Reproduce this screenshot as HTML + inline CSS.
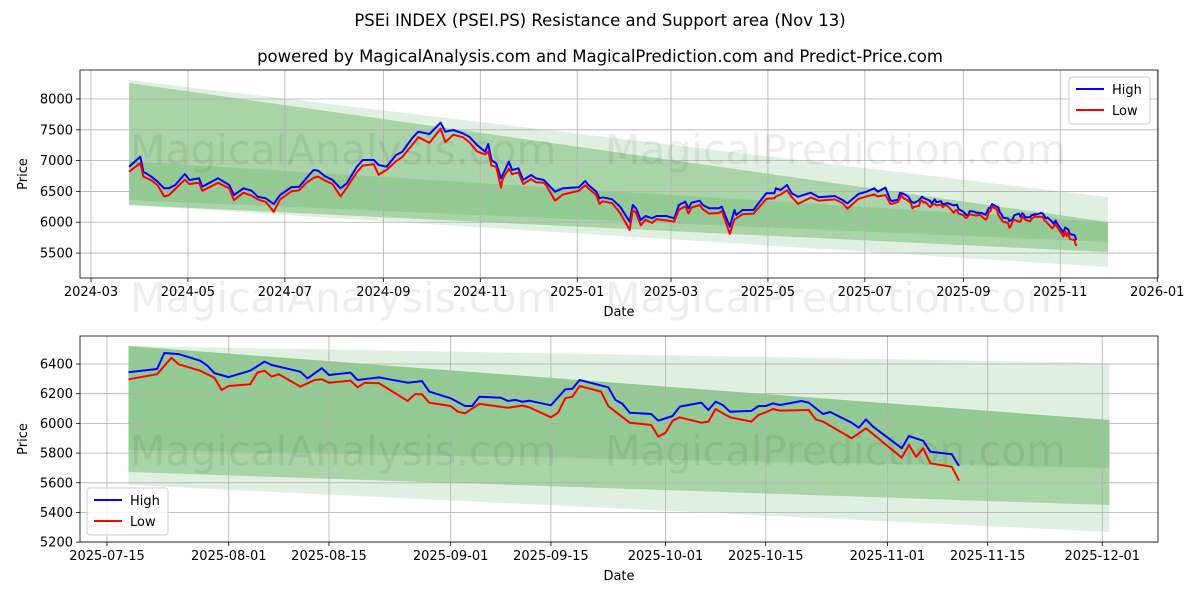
<!DOCTYPE html>
<html><head><meta charset="utf-8"><style>
html,body{margin:0;padding:0;background:#fff;}
svg{display:block;font-family:"DejaVu Sans","Liberation Sans",sans-serif;}
</style></head><body>
<svg id="chart" width="1200" height="600" viewBox="0 0 1200 600" xmlns="http://www.w3.org/2000/svg">
<text x="600" y="26" text-anchor="middle" font-size="16.5">PSEi INDEX (PSEI.PS) Resistance and Support area (Nov 13)</text>
<text x="600" y="62" text-anchor="middle" font-size="16.5">powered by MagicalAnalysis.com and MagicalPrediction.com and Predict-Price.com</text>
<g id="top"></g>
<g id="bot"></g>
</svg>
<script>
// ---- data ----
const topDates = ["2024-03-25","2024-04-01","2024-04-03","2024-04-08","2024-04-12","2024-04-16","2024-04-19","2024-04-23","2024-04-29","2024-05-02","2024-05-08","2024-05-10","2024-05-20","2024-05-27","2024-05-30","2024-06-05","2024-06-10","2024-06-14","2024-06-19","2024-06-24","2024-06-28","2024-07-05","2024-07-10","2024-07-15","2024-07-19","2024-07-22","2024-07-26","2024-07-31","2024-08-05","2024-08-09","2024-08-15","2024-08-19","2024-08-26","2024-08-29","2024-09-03","2024-09-09","2024-09-13","2024-09-19","2024-09-23","2024-09-30","2024-10-07","2024-10-10","2024-10-15","2024-10-21","2024-10-25","2024-10-30","2024-11-04","2024-11-06","2024-11-08","2024-11-11","2024-11-14","2024-11-15","2024-11-19","2024-11-21","2024-11-25","2024-11-28","2024-12-03","2024-12-06","2024-12-11","2024-12-13","2024-12-18","2024-12-23","2025-01-02","2025-01-06","2025-01-08","2025-01-13","2025-01-15","2025-01-17","2025-01-23","2025-01-28","2025-02-03","2025-02-05","2025-02-07","2025-02-10","2025-02-13","2025-02-17","2025-02-20","2025-02-26","2025-03-03","2025-03-06","2025-03-10","2025-03-12","2025-03-14","2025-03-19","2025-03-21","2025-03-25","2025-03-31","2025-04-02","2025-04-07","2025-04-10","2025-04-11","2025-04-15","2025-04-22","2025-04-25","2025-04-30","2025-05-05","2025-05-06","2025-05-09","2025-05-13","2025-05-16","2025-05-20","2025-05-28","2025-06-02","2025-06-06","2025-06-12","2025-06-17","2025-06-20","2025-06-27","2025-07-02","2025-07-07","2025-07-09","2025-07-14","2025-07-17"];
const topHigh = [6901,7064,6820,6739,6658,6551,6551,6604,6783,6685,6713,6577,6713,6604,6442,6551,6512,6414,6388,6296,6442,6567,6577,6729,6848,6837,6750,6685,6551,6632,6891,7010,7010,6929,6901,7091,7145,7362,7470,7432,7616,7470,7497,7443,7388,7253,7145,7270,7010,6956,6713,6767,6983,6848,6875,6685,6767,6713,6685,6632,6496,6551,6567,6669,6604,6496,6388,6404,6372,6252,6009,6280,6226,6036,6101,6064,6101,6101,6064,6280,6333,6226,6317,6350,6280,6226,6226,6252,5927,6198,6117,6198,6198,6306,6470,6470,6551,6523,6604,6470,6414,6480,6404,6414,6426,6361,6306,6458,6496,6551,6496,6560,6361];
const topLow = [6820,6960,6740,6680,6600,6420,6440,6540,6690,6620,6640,6510,6640,6550,6360,6480,6430,6370,6330,6170,6370,6500,6520,6650,6720,6740,6680,6620,6420,6560,6800,6920,6940,6770,6850,6990,7060,7250,7380,7290,7520,7300,7420,7380,7300,7150,7100,7150,6920,6900,6560,6700,6870,6780,6810,6620,6700,6650,6640,6580,6350,6450,6510,6600,6550,6440,6300,6340,6310,6150,5874,6200,6150,5950,6040,5990,6050,6030,6010,6200,6260,6140,6240,6280,6210,6140,6150,6180,5810,6050,6060,6130,6140,6230,6380,6390,6420,6450,6520,6410,6300,6400,6350,6360,6370,6310,6220,6380,6420,6450,6420,6440,6300];
const highDates = ["2025-07-18","2025-07-22","2025-07-23","2025-07-25","2025-07-28","2025-07-29","2025-07-30","2025-08-01","2025-08-04","2025-08-06","2025-08-07","2025-08-11","2025-08-12","2025-08-14","2025-08-15","2025-08-18","2025-08-19","2025-08-22","2025-08-26","2025-08-28","2025-08-29","2025-09-01","2025-09-03","2025-09-04","2025-09-05","2025-09-08","2025-09-09","2025-09-10","2025-09-11","2025-09-12","2025-09-15","2025-09-17","2025-09-18","2025-09-19","2025-09-23","2025-09-24","2025-09-25","2025-09-26","2025-09-29","2025-09-30","2025-10-02","2025-10-03","2025-10-06","2025-10-07","2025-10-08","2025-10-09","2025-10-10","2025-10-13","2025-10-14","2025-10-15","2025-10-16","2025-10-17","2025-10-20","2025-10-21","2025-10-23","2025-10-24","2025-10-27","2025-10-28","2025-10-29","2025-10-30","2025-11-03","2025-11-04","2025-11-06","2025-11-07","2025-11-10","2025-11-11"];
const highs = [6344,6366,6474,6467,6422,6389,6339,6312,6355,6416,6393,6348,6303,6372,6326,6342,6292,6310,6274,6285,6214,6169,6117,6117,6180,6173,6151,6158,6146,6153,6122,6229,6234,6292,6243,6158,6131,6072,6063,6018,6050,6113,6140,6090,6146,6124,6079,6084,6117,6117,6135,6124,6151,6140,6063,6077,6005,5971,6027,5978,5832,5915,5883,5809,5792,5713];
const lowDates = ["2025-07-18","2025-07-22","2025-07-24","2025-07-25","2025-07-28","2025-07-30","2025-07-31","2025-08-01","2025-08-04","2025-08-05","2025-08-06","2025-08-07","2025-08-08","2025-08-11","2025-08-13","2025-08-14","2025-08-15","2025-08-18","2025-08-19","2025-08-20","2025-08-22","2025-08-26","2025-08-27","2025-08-28","2025-08-29","2025-09-01","2025-09-02","2025-09-03","2025-09-05","2025-09-09","2025-09-11","2025-09-12","2025-09-15","2025-09-16","2025-09-17","2025-09-18","2025-09-19","2025-09-22","2025-09-23","2025-09-24","2025-09-26","2025-09-29","2025-09-30","2025-10-01","2025-10-02","2025-10-03","2025-10-06","2025-10-07","2025-10-08","2025-10-09","2025-10-10","2025-10-13","2025-10-14","2025-10-15","2025-10-16","2025-10-17","2025-10-21","2025-10-22","2025-10-23","2025-10-27","2025-10-29","2025-11-03","2025-11-04","2025-11-05","2025-11-06","2025-11-07","2025-11-10","2025-11-11"];
const lows = [6297,6331,6442,6398,6355,6308,6225,6252,6263,6342,6355,6315,6331,6248,6292,6297,6274,6288,6243,6274,6270,6151,6196,6196,6140,6117,6079,6068,6131,6106,6120,6108,6041,6072,6169,6180,6252,6214,6117,6079,6005,5989,5911,5937,6018,6041,6005,6012,6097,6068,6041,6012,6057,6075,6097,6086,6090,6027,6012,5900,5967,5769,5855,5775,5832,5731,5708,5614];
// bands: [upperStart, upperEnd, lowerStart, lowerEnd]
const topBandUpperStart = [8308, 8260, 6990];
const topBandUpperEnd   = [6409, 6004, 6004];
const topBandLowerStart = [6280, 6280, 6360];
const topBandLowerEnd   = [5273, 5516, 5680];
const botBandUpperStart = [6521, 6521, 6521];
const botBandUpperEnd   = [6407, 6023, 6023];
const botBandLowerStart = [5585, 5673, 5821];
const botBandLowerEnd   = [5269, 5450, 5700];
const bandStartTop = "2024-03-25", bandEndTop = "2025-12-01";
const bandStartBot = "2025-07-18", bandEndBot = "2025-12-02";
const topYTicks = [5500,6000,6500,7000,7500,8000];
const topXTicks = ["2024-03-01","2024-05-01","2024-07-01","2024-09-01","2024-11-01","2025-01-01","2025-03-01","2025-05-01","2025-07-01","2025-09-01","2025-11-01","2026-01-01"];
const botYTicks = [5200,5400,5600,5800,6000,6200,6400];
const botXTicks = ["2025-07-15","2025-08-01","2025-08-15","2025-09-01","2025-09-15","2025-10-01","2025-10-15","2025-11-01","2025-11-15","2025-12-01"];

const NS = "http://www.w3.org/2000/svg";
const DAY = 86400000;
function t(s){const p=s.split("-");return Date.UTC(+p[0],+p[1]-1,+p[2]);}
function mk(parent, tag, attrs, name){
  const e=document.createElementNS(NS,tag);
  for(const k in attrs) e.setAttribute(k,attrs[k]);
  
  
  parent.appendChild(e); return e;
}
function panel(g, cfg){
  const {L,R,T,B,x,y} = cfg;
  for(let i=0;i<cfg.bu0.length;i++){
    const x0=x(t(cfg.bs)), x1=x(t(cfg.be));
    const d=`M${x0},${y(cfg.bu0[i])}L${x1},${y(cfg.bu1[i])}L${x1},${y(cfg.bl1[i])}L${x0},${y(cfg.bl0[i])}Z`;
    mk(g,'path',{d:d,fill:'#008000','fill-opacity':cfg.op[i]},'band-'+i);
  }
  cfg.yt.forEach(v=>{const yy=y(v);
    mk(g,'line',{x1:L,x2:R,y1:yy,y2:yy,stroke:'#b0b0b0','stroke-width':0.8},'y-gridline');
    mk(g,'line',{x1:L-4,x2:L,y1:yy,y2:yy,stroke:'#000','stroke-width':0.8},'y-tick');
    const tx=mk(g,'text',{x:L-7,y:yy+4.5,'text-anchor':'end','font-size':13},'y-tick-label'); tx.textContent=v;
  });
  cfg.xt.forEach(s=>{const xx=x(t(s));
    mk(g,'line',{x1:xx,x2:xx,y1:T,y2:B,stroke:'#b0b0b0','stroke-width':0.8},'x-gridline');
    mk(g,'line',{x1:xx,x2:xx,y1:B,y2:B+4,stroke:'#000','stroke-width':0.8},'x-tick');
    const tx=mk(g,'text',{x:xx,y:B+18,'text-anchor':'middle','font-size':13},'x-tick-label'); tx.textContent=cfg.short? s.slice(0,7):s;
  });
  cfg.wm.forEach(w=>{const tx=mk(g,'text',{x:w[0],y:w[1],'font-size':41,fill:'#000','fill-opacity':0.07},'watermark'); tx.textContent=w[2];});
  const line=(ds,vs,col,name)=>{
    let d=''; ds.forEach((s,i)=>{d+=(i?'L':'M')+x(t(s)).toFixed(1)+','+y(vs[i]).toFixed(1);});
    mk(g,'path',{d:d,fill:'none',stroke:col,'stroke-width':2,'stroke-linejoin':'round'},name);
  };
  line(cfg.hd,cfg.hv,'#0000ff','high-line');
  line(cfg.ld,cfg.lv,'#ff0000','low-line');
  mk(g,'rect',{x:L,y:T,width:R-L,height:B-T,fill:'none',stroke:'#000','stroke-width':0.8},'axes-frame');
  const xl=mk(g,'text',{x:(L+R)/2,y:B+38,'text-anchor':'middle','font-size':13},'x-axis-title'); xl.textContent='Date';
  const yl=mk(g,'text',{x:0,y:0,'text-anchor':'middle','font-size':13,transform:`translate(27,${(T+B)/2}) rotate(-90)`},'y-axis-title'); yl.textContent='Price';
  const lg=cfg.leg;
  mk(g,'rect',{x:lg[0],y:lg[1],width:81,height:47,rx:3,fill:'#fff','fill-opacity':0.8,stroke:'#ccc'},'legend-box');
  mk(g,'line',{x1:lg[0]+7,x2:lg[0]+35,y1:lg[1]+12,y2:lg[1]+12,stroke:'#0000ff','stroke-width':2},'legend-high-swatch');
  const a=mk(g,'text',{x:lg[0]+43,y:lg[1]+17,'font-size':13},'legend-high-label'); a.textContent='High';
  mk(g,'line',{x1:lg[0]+7,x2:lg[0]+35,y1:lg[1]+33,y2:lg[1]+33,stroke:'#ff0000','stroke-width':2},'legend-low-swatch');
  const b=mk(g,'text',{x:lg[0]+43,y:lg[1]+38,'font-size':13},'legend-low-label'); b.textContent='Low';
}
const t0=t("2024-03-01"), b0=t("2025-07-15");
panel(document.getElementById('top'),{
  L:80,R:1158,T:70,B:278, short:true,
  x:v=>91+(v-t0)/DAY*1.589, y:p=>99+(8000-p)*0.06162,
  bs:bandStartTop, be:bandEndTop, bu0:topBandUpperStart, bu1:topBandUpperEnd, bl0:topBandLowerStart, bl1:topBandLowerEnd, op:[0.12,0.25,0.12],
  yt:topYTicks, xt:topXTicks,
  hd:topDates.concat(highDates), hv:topHigh.concat(highs), ld:topDates.concat(lowDates), lv:topLow.concat(lows),
  wm:[[130,164,'MagicalAnalysis.com'],[605,164,'MagicalPrediction.com'],[130,312,'MagicalAnalysis.com'],[605,312,'MagicalPrediction.com']],
  leg:[1069,77]
});
panel(document.getElementById('bot'),{
  L:80,R:1158,T:336,B:542, short:false,
  x:v=>107+(v-b0)/DAY*7.16, y:p=>364+(6400-p)*0.1485,
  bs:bandStartBot, be:bandEndBot, bu0:botBandUpperStart, bu1:botBandUpperEnd, bl0:botBandLowerStart, bl1:botBandLowerEnd, op:[0.12,0.25,0.12],
  yt:botYTicks, xt:botXTicks,
  hd:highDates, hv:highs, ld:lowDates, lv:lows,
  wm:[[130,465,'MagicalAnalysis.com'],[605,465,'MagicalPrediction.com']],
  leg:[87,488]
});
</script>
</body></html>
